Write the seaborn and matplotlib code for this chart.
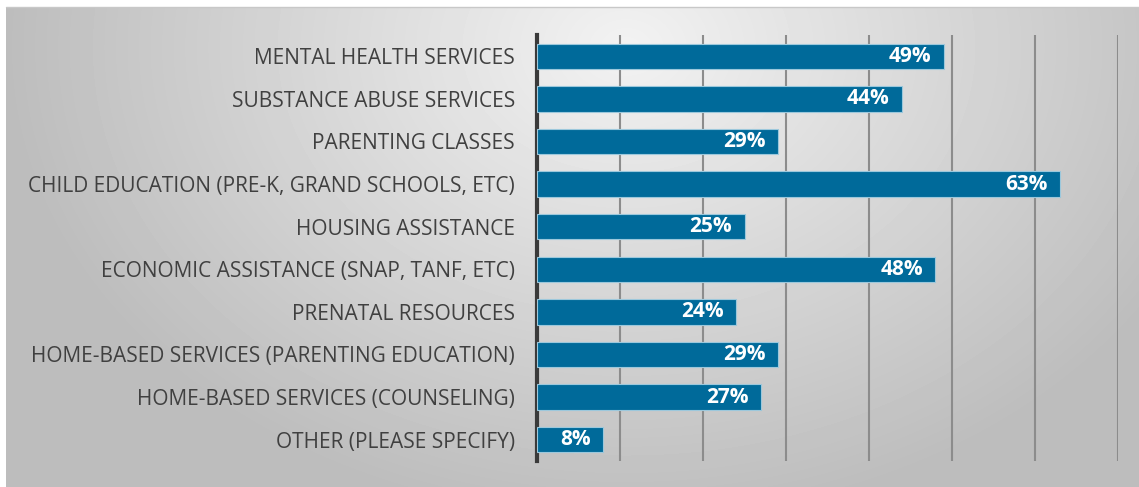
import numpy as np
import pandas as pd
import matplotlib
matplotlib.use("Agg")
import matplotlib.pyplot as plt
import seaborn as sns

categories = [
    "MENTAL HEALTH SERVICES",
    "SUBSTANCE ABUSE SERVICES",
    "PARENTING CLASSES",
    "CHILD EDUCATION (PRE-K, GRAND SCHOOLS, ETC)",
    "HOUSING ASSISTANCE",
    "ECONOMIC ASSISTANCE (SNAP, TANF, ETC)",
    "PRENATAL RESOURCES",
    "HOME-BASED SERVICES (PARENTING EDUCATION)",
    "HOME-BASED SERVICES (COUNSELING)",
    "OTHER (PLEASE SPECIFY)",
]
values = [0.49, 0.44, 0.29, 0.63, 0.25, 0.48, 0.24, 0.29, 0.27, 0.08]

df = pd.DataFrame({"category": categories, "value": values})

sns.set_theme(style="white")
plt.rcParams["font.family"] = ["Open Sans", "DejaVu Sans"]

fig = plt.figure(figsize=(11.39, 4.87), dpi=100)
W, H = 1139, 487

# gradient panel behind the chart
bg = fig.add_axes([6 / W, 0, 1 - 6 / W, 1 - 7 / H], zorder=0)
yy, xx = np.mgrid[0:480, 0:1133]
r = np.sqrt(((xx - 620) / 680) ** 2 + ((yy - 40) / 520) ** 2)
shade = np.clip(0.95 - 0.23 * r, 0.74, 0.95)
bg.imshow(shade, cmap="gray", vmin=0, vmax=1, aspect="auto", interpolation="bilinear")
bg.set_axis_off()
fig.add_artist(plt.Line2D([6 / W, 1], [1 - 7 / H, 1 - 7 / H], color="#c8c8c8", lw=1))

ax = fig.add_axes([537 / W, 1 - 461 / H, (1118 - 537) / W, (461 - 35) / H], zorder=1)
ax.patch.set_alpha(0)
sns.barplot(data=df, x="value", y="category", ax=ax, color="#006a9a",
            width=0.6, edgecolor="#9cc8dc", linewidth=0.8, saturation=1, zorder=3)

ax.set_xlim(0, 0.7)
ax.set_xticks(np.arange(0.1, 0.71, 0.1))
ax.grid(axis="x", color="#8c8c8c", lw=1.5, zorder=0)
ax.tick_params(axis="x", labelbottom=False, length=0)
ax.tick_params(axis="y", length=0, pad=16, labelsize=15, labelcolor="#404040")
ax.set_xlabel("")
ax.set_ylabel("")
for s in ["top", "right", "bottom"]:
    ax.spines[s].set_visible(False)
ax.spines["left"].set_color("#3a3a3a")
ax.spines["left"].set_linewidth(3)

for i, v in enumerate(values):
    ax.text(v - 0.015, i, f"{v:.0%}", color="white", fontweight="bold",
            fontsize=15, ha="right", va="center", zorder=4)

fig.savefig("out.png", dpi=100)
